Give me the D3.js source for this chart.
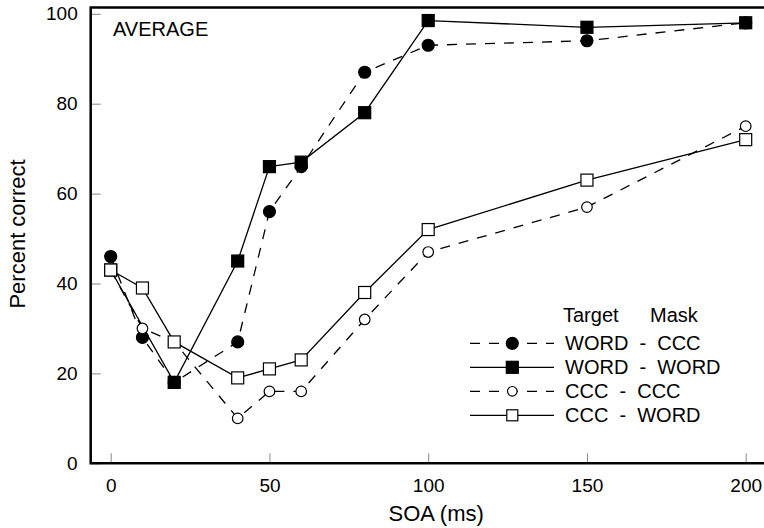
<!DOCTYPE html>
<meta charset="utf-8">
<head>
    <style>
        body {margin: 0; padding: 0; background: #fff;}
        svg {display: block; font-family: "Liberation Sans", Arial, sans-serif;}
        .tick line {stroke: #888;}
        .tick text {fill: #000; font-size: 19px;}
        .legend text {font-size: 20px; white-space: pre;}
    </style>
    <script src="https://d3js.org/d3.v7.min.js"></script>
</head>
<body>
<script>
    // SOA values (ms)
    var soa = [0, 10, 20, 40, 50, 60, 80, 100, 150, 200];

    // percent correct per condition (null = no point)
    var wordCcc  = [46, 28, 18, 27, 56, 66, 87, 93, 94, 98];
    var wordWord = [43, null, 18, 45, 66, 67, 78, 98.5, 97, 98];
    var cccCcc   = [43, 30, 27, 10, 16, 16, 32, 47, 57, 75];
    var cccWord  = [43, 39, 27, 19, 21, 23, 38, 52, 63, 72];

    var seriesNames = ["WORD  -  CCC", "WORD  -  WORD", "CCC  -  CCC", "CCC  -  WORD"];
    var xTicks = [0, 50, 100, 150, 200];
    var yTicks = [0, 20, 40, 60, 80, 100];

    var series = [
        {name: seriesNames[0], values: wordCcc,  dash: "10,9", shape: "circle", fill: "#000"},
        {name: seriesNames[1], values: wordWord, dash: null,   shape: "square", fill: "#000"},
        {name: seriesNames[2], values: cccCcc,   dash: "10,9", shape: "circle", fill: "#fff"},
        {name: seriesNames[3], values: cccWord,  dash: null,   shape: "square", fill: "#fff"}
    ];

    var width = 764, height = 528;

    var x = d3.scaleLinear().domain([0, 200]).range([110.7, 745.7]);
    var y = d3.scaleLinear().domain([0, 100]).range([463.3, 13.8]);

    var frameLeft = x(-6.3), frameTop = y(101.4), frameBottom = y(0);

    var svg = d3.select("body").append("svg")
        .attr("width", width)
        .attr("height", height);

    // ticks (inward)
    svg.append("g")
        .attr("transform", "translate(" + frameLeft + ",0)")
        .call(d3.axisLeft(y).tickValues(yTicks).tickSizeInner(-10).tickSizeOuter(0).tickPadding(13))
        .call(function(g) {g.select(".domain").remove()});

    svg.append("g")
        .attr("transform", "translate(0," + frameBottom + ")")
        .call(d3.axisBottom(x).tickValues(xTicks).tickSizeInner(-10).tickSizeOuter(0).tickPadding(15))
        .call(function(g) {g.select(".domain").remove()});

    // frame (right side runs off the picture)
    svg.append("path")
        .attr("d", "M" + width + "," + frameTop + "H" + frameLeft + "V" + frameBottom + "H" + width)
        .attr("fill", "none")
        .attr("stroke", "#000")
        .attr("stroke-width", 2.5);

    svg.append("text")
        .attr("x", 113).attr("y", 36)
        .attr("font-size", 20)
        .text("AVERAGE");

    svg.append("text")
        .attr("x", x(100) + 8).attr("y", 521)
        .attr("text-anchor", "middle")
        .attr("font-size", 22)
        .text("SOA (ms)");

    svg.append("text")
        .attr("transform", "translate(25,234) rotate(-90)")
        .attr("text-anchor", "middle")
        .attr("font-size", 22)
        .text("Percent correct");

    function drawMarker(g, shape, fill, cx, cy, size) {
        if (shape == "circle") {
            g.append("circle")
                .attr("cx", cx).attr("cy", cy).attr("r", fill == "#000" ? size / 2 : size / 2 - 0.7)
                .attr("fill", fill).attr("stroke", "#000").attr("stroke-width", 1.2);
        } else {
            g.append("rect")
                .attr("x", cx - size / 2).attr("y", cy - size / 2)
                .attr("width", size).attr("height", size)
                .attr("fill", fill).attr("stroke", "#000").attr("stroke-width", 1.2);
        }
    }

    var line = d3.line()
        .defined(function(d) {return d[1] != null})
        .x(function(d) {return x(d[0])})
        .y(function(d) {return y(d[1])});

    series.forEach(function(s) {
        var pts = soa.map(function(v, i) {return [v, s.values[i]]})
            .filter(function(d) {return d[1] != null});
        var g = svg.append("g");
        g.append("path")
            .datum(pts)
            .attr("d", line)
            .attr("fill", "none")
            .attr("stroke", "#000")
            .attr("stroke-width", 1.3)
            .attr("stroke-dasharray", s.dash);
        pts.forEach(function(d) {
            drawMarker(g, s.shape, s.fill, x(d[0]), y(d[1]), 12);
        });
    });

    // legend
    var legend = svg.append("g").attr("class", "legend");
    legend.append("text").attr("x", 563).attr("y", 322).text("Target");
    legend.append("text").attr("x", 650).attr("y", 322).text("Mask");

    series.forEach(function(s, i) {
        var ly = 343.3 + i * 24;
        legend.append("line")
            .attr("x1", 470).attr("x2", 554)
            .attr("y1", ly).attr("y2", ly)
            .attr("stroke", "#000").attr("stroke-width", 1.3)
            .attr("stroke-dasharray", s.dash);
        drawMarker(legend, s.shape, s.fill, 512.3, ly, s.fill == "#000" ? 12 : 11);
        legend.append("text")
            .attr("x", 565).attr("y", ly + 7)
            .text(s.name);
    });
</script>
</body>
